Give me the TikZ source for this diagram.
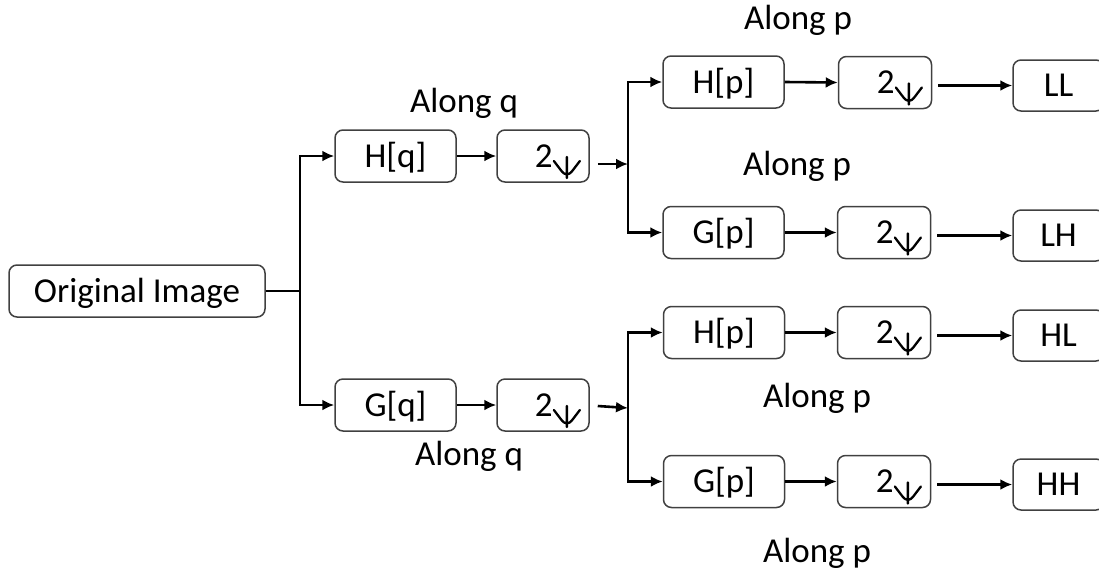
\documentclass[tikz,border=0pt]{standalone}
\usepackage{fontspec}
\setmainfont{Carlito}
\usetikzlibrary{arrows.meta}
\tikzset{
  box/.style={draw={rgb,255:red,64;green,64;blue,64}, line width=1.5pt, rounded corners=8pt,
    minimum height=52pt, inner sep=0pt, text height=29pt, text depth=7pt, font=\fontsize{35}{42}\selectfont},
  lbl/.style={anchor=base, inner sep=0pt, font=\fontsize{35}{42}\selectfont},
  arr/.style={line width=2.6pt, -{Latex[length=12pt,width=11pt]}},
  ln/.style={line width=2.6pt},
  downglyph/.style={line width=2.3pt, line cap=round, line join=round},
}
\newcommand{\dn}{\hspace*{30pt}2\tikz[baseline=0pt,x=1pt,y=1pt]{\path (0,0) rectangle (28,1);\draw[downglyph] (14,10) -- (14,-11) (1,6) -- (14,-11) -- (27,6);}}
\begin{document}
\begin{tikzpicture}[x=1pt,y=-1pt]
\useasboundingbox (0,0) rectangle (1099,574);
\clip (0,0) rectangle (1099,574);
% nodes
\node[box, minimum width=256pt] (orig) at (137,291) {Original Image};
\node[box, minimum width=121pt] (Hq) at (395.5,156) {H[q]};
\node[box, minimum width=92pt] (d1) at (543,156) {\dn};
\node[box, minimum width=121pt] (Gq) at (395.5,405) {G[q]};
\node[box, minimum width=92pt] (d2) at (543,405) {\dn};
\node[box, minimum width=121pt] (Hp1) at (723.5,82) {H[p]};
\node[box, minimum width=93pt] (d3) at (885,82.5) {\dn};
\node[box, minimum width=91pt, minimum height=51pt] (LL) at (1058.5,85.5) {LL};
\node[box, minimum width=121pt] (Gp1) at (723.5,232.5) {G[p]};
\node[box, minimum width=93pt] (d4) at (884,232.5) {\dn};
\node[box, minimum width=91pt, minimum height=51pt] (LH) at (1058.5,235.5) {LH};
\node[box, minimum width=121pt] (Hp2) at (724,332.5) {H[p]};
\node[box, minimum width=93pt] (d5) at (884,332.5) {\dn};
\node[box, minimum width=91pt, minimum height=51pt] (HL) at (1058.5,335.5) {HL};
\node[box, minimum width=121pt] (Gp2) at (724,481.5) {G[p]};
\node[box, minimum width=93pt] (d6) at (884,481.5) {\dn};
\node[box, minimum width=91pt, minimum height=51pt] (HH) at (1058.5,484.5) {HH};
% labels
\node[lbl] (l1) at (798,29) {Along p};
\node[lbl] (l2) at (464,112) {Along q};
\node[lbl] (l3) at (797,175) {Along p};
\node[lbl] (l4) at (817,407) {Along p};
\node[lbl] (l5) at (469,465) {Along q};
\node[lbl] (l6) at (817,562) {Along p};
% junctions
\coordinate (j0) at (300,291);
\coordinate (j1) at (628,164);
\coordinate (j2) at (628,408);
% connectors
\draw[ln] (orig.east) -- (j0);
\draw[arr] (j0) |- (Hq.west);
\draw[arr] (j0) |- (Gq.west);
\draw[arr] (Hq.east) -- (d1.west);
\draw[arr] (Gq.east) -- (d2.west);
\draw[arr] (d1.east) ++(8,8) -- (j1);
\draw[arr] (d2.east) ++(8,1) -- (j2);
\draw[arr] (j1) |- (Hp1.west);
\draw[arr] (j1) |- (Gp1.west);
\draw[arr] (j2) |- (Hp2.west);
\draw[arr] (j2) |- (Gp2.west);
\draw[arr] (Hp1.east) -- (d3.west);
\draw[arr] (Gp1.east) -- (d4.west);
\draw[arr] (Hp2.east) -- (d5.west);
\draw[arr] (Gp2.east) -- (d6.west);
\draw[arr] (d3.east) ++(6,3) -- (LL.west);
\draw[arr] (d4.east) ++(6,3) -- (LH.west);
\draw[arr] (d5.east) ++(6,3) -- (HL.west);
\draw[arr] (d6.east) ++(6,3) -- (HH.west);
\end{tikzpicture}
\end{document}
